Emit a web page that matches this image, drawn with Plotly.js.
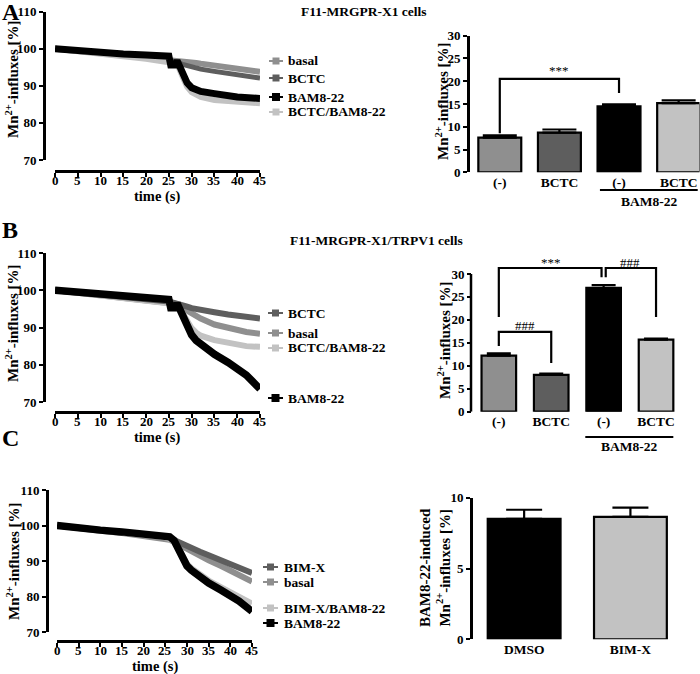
<!DOCTYPE html>
<html><head><meta charset="utf-8">
<script src="https://cdn.plot.ly/plotly-3.0.1.min.js"></script>
<style>html,body{margin:0;padding:0;background:#fff}#chart{width:700px;height:674px}</style>
</head><body><div id="chart"></div>
<script>
// ---------------- DATA ----------------
// Panel A (F11-MRGPR-X1 cells) time courses
const timeA   = [0, 5, 10, 15, 20, 25, 25.4, 26.4, 26.8, 28, 29, 30, 31, 32, 35, 40, 45];
const basalA  = [100, 99.4, 98.8, 98.3, 97.8, 97.3, 97.2, 97.1, 97.0, 96.8, 96.6, 96.4, 96.2, 96.0, 95.5, 94.7, 93.8];
const bctcA   = [100, 99.3, 98.7, 98.1, 97.5, 96.9, 96.8, 96.5, 96.3, 95.8, 95.4, 95.0, 94.7, 94.5, 93.9, 93.0, 92.1];
const comboA  = [100, 99.2, 98.6, 98.0, 97.3, 96.6, 96.5, 96.3, 96.0, 92.5, 89.8, 88.3, 87.5, 87.0, 86.2, 85.7, 85.3];
const bamA    = [100, 99.4, 99.0, 98.6, 98.3, 98.0, 95.6, 95.6, 96.8, 93.0, 90.8, 89.5, 88.9, 88.5, 87.9, 87.0, 86.6];
// Panel A bars
const catsA   = ['(-)', 'BCTC', '(-)', 'BCTC'];
const barsA   = [7.6, 8.7, 14.5, 15.2];
const errA    = [0.5, 0.7, 0.4, 0.6];

// Panel B (F11-MRGPR-X1/TRPV1 cells) time courses
const timeB   = [0, 5, 10, 15, 20, 25, 25.4, 26.4, 26.8, 28, 29, 30, 31, 32, 35, 38, 40, 42, 45];
const bctcB   = [100, 99.3, 98.7, 98.2, 97.6, 97.0, 96.9, 96.6, 96.4, 96.0, 95.6, 95.2, 94.9, 94.7, 94.1, 93.5, 93.1, 92.8, 92.4];
const basalB  = [100, 99.3, 98.6, 98.0, 97.4, 96.8, 96.7, 96.4, 96.1, 95.2, 94.4, 93.5, 92.9, 92.4, 90.8, 89.8, 89.2, 88.8, 88.3];
const comboB  = [100, 99.2, 98.5, 97.9, 97.2, 96.5, 96.4, 96.2, 96.0, 93.8, 91.6, 89.8, 88.6, 87.8, 86.6, 85.8, 85.3, 85.0, 84.8];
const bamB    = [100, 99.4, 98.9, 98.5, 98.0, 97.5, 95.3, 95.3, 96.5, 93.0, 90.3, 88.0, 86.5, 85.5, 82.8, 80.6, 79.0, 77.2, 73.5];
// Panel B bars
const catsB   = ['(-)', 'BCTC', '(-)', 'BCTC'];
const barsB   = [12.2, 8.0, 27.0, 15.7];
const errB    = [0.5, 0.3, 0.6, 0.2];

// Panel C time courses
const timeC   = [0, 5, 10, 15, 20, 25, 26, 27, 28, 29, 30, 31, 33, 35, 38, 40, 42, 45];
const bimC    = [100, 99.2, 98.6, 98.0, 97.4, 96.8, 96.4, 95.9, 95.3, 94.7, 94.1, 93.6, 92.6, 91.6, 90.0, 89.0, 88.0, 86.6];
const basalC  = [100, 99.1, 98.5, 97.9, 97.2, 96.5, 96.0, 95.4, 94.7, 94.0, 93.3, 92.7, 91.4, 90.2, 88.5, 87.3, 86.2, 84.2];
const comboC  = [100, 99.1, 98.6, 98.0, 97.4, 96.6, 96.2, 95.4, 93.8, 91.2, 89.2, 88.0, 86.0, 84.5, 82.5, 81.2, 80.0, 78.0];
const bamC    = [100, 99.2, 98.7, 98.2, 97.7, 97.1, 96.8, 95.8, 93.5, 90.5, 88.6, 87.4, 85.4, 83.8, 81.7, 80.3, 78.7, 75.8];
// Panel C bars
const catsC   = ['DMSO', 'BIM-X'];
const barsC   = [8.5, 8.65];
const errC    = [0.65, 0.65];

// time-axis tick values
const timeTicks = [0, 5, 10, 15, 20, 25, 30, 35, 40, 45];

// ---------------- STYLE / LAYOUT HELPERS ----------------
const W = 700, H = 674;
const px = v => v / W;
const py = v => 1 - v / H;
const FAM = 'Liberation Serif, Times New Roman, serif';
const C = {basal: '#8f8f8f', bctc: '#5e5e5e', bam: '#000000', combo: '#c2c2c2'};

function line(x, y, color, width, xa, ya) {
  return {type: 'scatter', mode: 'lines', x: x, y: y, xaxis: xa, yaxis: ya,
    line: {color: color, width: width}, showlegend: false, hoverinfo: 'skip'};
}
function bars(cats, vals, errs, colors, width, capw, xa, ya) {
  return {type: 'bar', x: cats.map((c, i) => i), y: vals, xaxis: xa, yaxis: ya, width: width,
    marker: {color: colors, line: {color: '#000', width: 2.2}},
    error_y: {type: 'data', symmetric: false, array: errs, arrayminus: errs.map(() => 0),
      color: '#000', thickness: 2.2, width: capw},
    showlegend: false, hoverinfo: 'skip'};
}

const traces = [
  line(timeA, basalA, C.basal, 6, 'x', 'y'),
  line(timeA, bctcA, C.bctc, 5, 'x', 'y'),
  line(timeA, comboA, C.combo, 6, 'x', 'y'),
  line(timeA, bamA, C.bam, 7, 'x', 'y'),
  bars(catsA, barsA, errA, [C.basal, C.bctc, C.bam, C.combo], 0.72, 17, 'x2', 'y2'),
  line(timeB, basalB, C.basal, 6, 'x3', 'y3'),
  line(timeB, comboB, C.combo, 6, 'x3', 'y3'),
  line(timeB, bctcB, C.bctc, 6, 'x3', 'y3'),
  line(timeB, bamB, C.bam, 7.5, 'x3', 'y3'),
  bars(catsB, barsB, errB, [C.basal, C.bctc, C.bam, C.combo], 0.66, 12, 'x4', 'y4'),
  line(timeC, basalC, C.basal, 6, 'x5', 'y5'),
  line(timeC, bimC, C.bctc, 6, 'x5', 'y5'),
  line(timeC, comboC, C.combo, 6, 'x5', 'y5'),
  line(timeC, bamC, C.bam, 7.5, 'x5', 'y5'),
  bars(catsC, barsC, errC, [C.bam, C.combo], 0.685, 18, 'x6', 'y6')
];

const tickFont = {family: FAM, size: 13, color: '#000', weight: 'bold'};
const baseAx = {showgrid: false, zeroline: false, showline: true, linecolor: '#000', linewidth: 2.5,
  ticks: 'outside', ticklen: 4, tickwidth: 2, tickcolor: '#000', tickfont: tickFont, fixedrange: true};

function timeX(d0, d1, ypos) {
  return Object.assign({}, baseAx, {domain: [px(d0), px(d1)], range: [0, 45], tickvals: timeTicks,
    anchor: 'free', position: py(ypos), showticklabels: false});
}
function pctY(top, bottom, xpos) {
  return Object.assign({}, baseAx, {domain: [py(bottom), py(top)], range: [70, 110], tick0: 70, dtick: 10,
    anchor: 'free', position: px(xpos)});
}
function catX(d0, d1, range, cats, ya) {
  return {domain: [px(d0), px(d1)], range: range, anchor: ya, showgrid: false, zeroline: false,
    showline: false, ticks: '', tickvals: cats.map((c, i) => i), ticktext: cats,
    tickfont: {family: FAM, size: 13.5, color: '#000', weight: 'bold'}, fixedrange: true};
}

const layout = {
  width: W, height: H, margin: {l: 0, r: 0, t: 0, b: 0},
  paper_bgcolor: '#fff', plot_bgcolor: 'rgba(0,0,0,0)', showlegend: false,
  font: {family: FAM, color: '#000'},
  xaxis: timeX(55, 260, 171),
  yaxis: pctY(11.7, 160, 44),
  xaxis2: catX(467, 699.5, [-0.55, 3.35], catsA, 'y2'),
  yaxis2: Object.assign({}, baseAx, {domain: [py(172.3), py(35.7)], range: [0, 30], dtick: 5,
    anchor: 'free', position: px(468)}),
  xaxis3: timeX(55, 260, 412),
  yaxis3: pctY(253, 402, 44),
  xaxis4: catX(470, 677, [-0.55, 3.4], catsB, 'y4'),
  yaxis4: Object.assign({}, baseAx, {domain: [py(411.7), py(257.9)], range: [0, 33.5],
    tickvals: [0, 5, 10, 15, 20, 25, 30], showline: false, anchor: 'free', position: px(471)}),
  xaxis5: timeX(57, 252, 641),
  yaxis5: pctY(490, 632, 47),
  xaxis6: catX(471, 674, [-0.5, 1.41], catsC, 'y6'),
  yaxis6: Object.assign({}, baseAx, {domain: [py(639.3), py(497.7)], range: [0, 10], dtick: 5,
    anchor: 'free', position: px(471)}),
  shapes: [],
  annotations: []
};

const S = layout.shapes, A = layout.annotations;
const bold = (size) => ({family: FAM, size: size, color: '#000', weight: 'bold'});
function txt(x, y, text, size, opts) {
  A.push(Object.assign({xref: 'paper', yref: 'paper', x: px(x), y: py(y), text: text, showarrow: false,
    font: bold(size), xanchor: 'center', yanchor: 'middle'}, opts || {}));
}

// time-axis tick labels, positioned through each x axis
[['x', 180.5], ['x3', 421.5], ['x5', 650.5]].forEach(([xa, y]) => {
  timeTicks.forEach(t => A.push({xref: xa, yref: 'paper', x: t, y: py(y), text: String(t), showarrow: false,
    font: bold(13), xanchor: 'center', yanchor: 'middle'}));
});

// panel letters and titles
txt(0, 12, 'A', 24, {xanchor: 'left'});
txt(0, 230, 'B', 24, {xanchor: 'left'});
txt(0, 438, 'C', 24, {xanchor: 'left'});
txt(364, 12, 'F11-MRGPR-X1 cells', 13.5);
txt(376, 240, 'F11-MRGPR-X1/TRPV1 cells', 13.5);

// axis titles
const mnTitle = 'Mn<sup>2+</sup>-influxes [%]';
txt(12, 80, mnTitle, 15, {textangle: -90});
txt(12, 324, mnTitle, 15, {textangle: -90});
txt(13, 562, mnTitle, 15, {textangle: -90});
txt(442, 102, mnTitle, 15, {textangle: -90});
txt(444, 340, mnTitle, 15, {textangle: -90});
txt(435, 568, 'BAM8-22-induced<br>' + mnTitle, 15, {textangle: -90});
txt(157, 196, 'time (s)', 14.5);
txt(157, 437, 'time (s)', 14.5);
txt(155, 666, 'time (s)', 14.5);

// legends (line + square marker + label)
function legend(items, x0, x1, tx) {
  items.forEach(([label, color, y]) => {
    S.push({type: 'line', xref: 'paper', yref: 'paper', x0: px(x0), x1: px(x1), y0: py(y), y1: py(y),
      line: {color: color, width: 2}});
    const m = (x0 + x1) / 2, h = color === '#000000' ? 4 : 3.5;
    S.push({type: 'rect', xref: 'paper', yref: 'paper', x0: px(m - h), x1: px(m + h), y0: py(y - h), y1: py(y + h),
      fillcolor: color, line: {width: 0}});
    txt(tx, y, label, 13.5, {xanchor: 'left'});
  });
}
legend([['basal', C.basal, 61], ['BCTC', C.bctc, 78], ['BAM8-22', C.bam, 97], ['BCTC/BAM8-22', C.combo, 112]], 269, 283, 286);
legend([['BCTC', C.bctc, 313], ['basal', C.basal, 333], ['BCTC/BAM8-22', C.combo, 348], ['BAM8-22', C.bam, 398]], 268, 283, 286);
legend([['BIM-X', C.bctc, 567], ['basal', C.basal, 582], ['BIM-X/BAM8-22', C.combo, 608], ['BAM8-22', C.bam, 623]], 263, 278, 282);

// manual y-axis line for B bar chart (0..30)
S.push({type: 'line', xref: 'paper', yref: 'y4', x0: px(471), x1: px(471), y0: 0, y1: 30,
  line: {color: '#000', width: 2.5}});

// group lines "BAM8-22"
S.push({type: 'line', xref: 'x2', yref: 'paper', x0: 1.68, x1: 3.32, y0: py(190), y1: py(190), line: {color: '#000', width: 2}});
txt(649, 201, 'BAM8-22', 13.5);
S.push({type: 'line', xref: 'x4', yref: 'paper', x0: 1.65, x1: 3.33, y0: py(437), y1: py(437), line: {color: '#000', width: 2}});
txt(629, 446, 'BAM8-22', 13.5);

// significance brackets
const br = {color: '#000', width: 2.2};
const starFont = {family: FAM, size: 13, color: '#000'};
S.push({type: 'path', xref: 'x2', yref: 'y2', path: 'M0,8.6 L0,20.5 L2,20.5 L2,17.4', line: br});
A.push({xref: 'x2', yref: 'y2', x: 1, y: 22.3, text: '***', showarrow: false, font: starFont});
S.push({type: 'path', xref: 'x4', yref: 'y4', path: 'M0,20.6 L0,31.3 L1.96,31.3 L1.96,29.3', line: br});
S.push({type: 'path', xref: 'x4', yref: 'y4', path: 'M2.04,29.3 L2.04,31.3 L3,31.3 L3,20.6', line: br});
S.push({type: 'path', xref: 'x4', yref: 'y4', path: 'M0,14.3 L0,17.4 L1,17.4 L1,10.6', line: br});
A.push({xref: 'x4', yref: 'y4', x: 1, y: 32.5, text: '***', showarrow: false, font: starFont});
A.push({xref: 'x4', yref: 'y4', x: 2.5, y: 32.5, text: '###', showarrow: false, font: starFont});
A.push({xref: 'x4', yref: 'y4', x: 0.5, y: 18.8, text: '###', showarrow: false, font: starFont});

Plotly.newPlot('chart', traces, layout, {staticPlot: true, displayModeBar: false});
</script>
</body></html>
